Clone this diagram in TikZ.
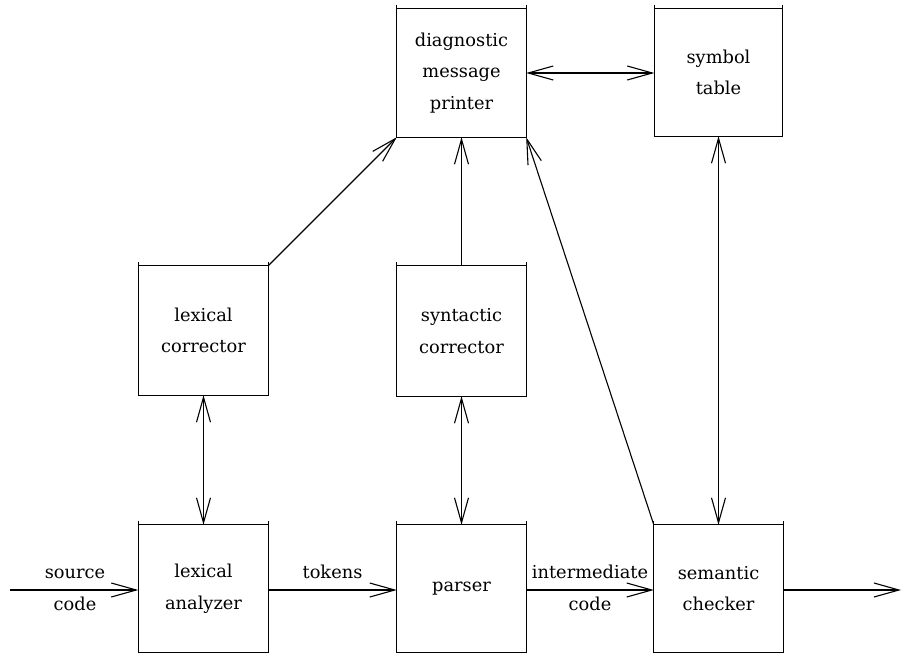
\documentclass[tikz,border=0pt]{standalone}
\usepackage{fontspec}
\setmainfont{DejaVu Serif}
\usetikzlibrary{arrows.meta}
\tikzset{
  >={Straight Barb[length=25pt,width=14pt]},
  conn/.style={line width=1.1pt},
  arr/.style={conn,->},
  darr/.style={conn,<->},
  txt/.style={font=\fontsize{17.8}{31.5}\selectfont},
  box/.style={rectangle,inner sep=0pt,align=center,txt},
  lbl/.style={inner sep=0pt,anchor=base,txt},
}
\newcommand{\myboxframe}[1]{%
  \draw[line width=1.1pt] ([yshift=4pt]#1.north west) -- (#1.south west) -- (#1.south east) -- ([yshift=4pt]#1.north east);
  \draw[line width=1.1pt] (#1.north west) -- (#1.north east);}
\begin{document}
\begin{tikzpicture}[x=1pt,y=-1pt]
\useasboundingbox (0,0) rectangle (902,654);
% boxes
\node[box,minimum width=129pt,minimum height=128pt] (diag) at (461.5,73) {diagnostic\\message\\printer};
\node[box,minimum width=128pt,minimum height=127pt] (sym) at (718.5,72.5) {symbol\\table};
\node[box,minimum width=129pt,minimum height=129pt] (lexc) at (203.5,330.5) {lexical\\corrector};
\node[box,minimum width=129pt,minimum height=130pt] (sync) at (461.5,331) {syntactic\\corrector};
\node[box,minimum width=130pt,minimum height=127pt] (lexa) at (203.5,588.5) {lexical\\analyzer};
\node[box,minimum width=129pt,minimum height=127pt] (pars) at (461.5,588.5) {parser};
\node[box,minimum width=129pt,minimum height=127pt] (sem) at (718.5,588.5) {semantic\\checker};
\myboxframe{diag}\myboxframe{sym}\myboxframe{lexc}\myboxframe{sync}
\myboxframe{lexa}\myboxframe{pars}\myboxframe{sem}
% coordinates for free ends
\coordinate (src) at (10,590);
\coordinate (out) at (901,590);
% connectors
\draw[arr] (lexc.north east) -- (diag.south west);
\draw[arr] (sync.north) -- (diag.south);
\draw[arr] (sem.north west) -- (diag.south east);
\draw[darr] (diag.east) -- (diag.east -| sym.west);
\draw[darr] (sym.south) -- (sem.north);
\draw[darr] (lexc.south) -- (lexa.north);
\draw[darr] (sync.south) -- (pars.north);
\draw[arr] (src) -- (src -| lexa.west);
\draw[arr] (lexa.east |- src) -- (pars.west |- src);
\draw[arr] (pars.east |- src) -- (sem.west |- src);
\draw[arr] (sem.east |- src) -- (out);
% labels
\node[lbl] (l1) at (75,578) {source};
\node[lbl] (l2) at (75,610) {code};
\node[lbl] (l3) at (332.5,578) {tokens};
\node[lbl] (l4) at (590,578) {intermediate};
\node[lbl] (l5) at (590,610) {code};
\end{tikzpicture}
\end{document}
